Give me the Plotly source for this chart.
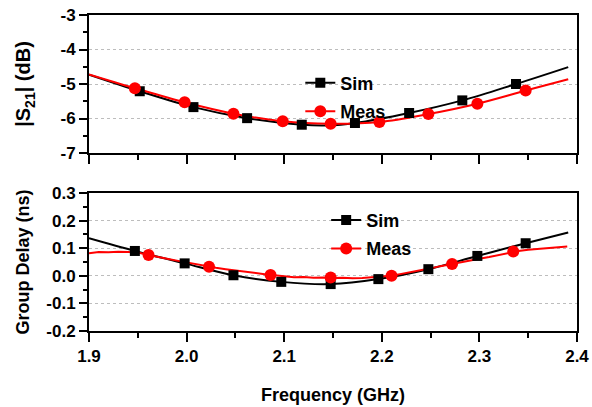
import plotly.graph_objects as go

# ---- |S21| (dB) : simulated curve and marker points ----
s21_sim_x = [1.900, 1.952, 2.007, 2.062, 2.118, 2.145, 2.1725, 2.228, 2.2825, 2.3375, 2.391]
s21_sim_y = [-4.73, -5.21, -5.67, -5.99, -6.18, -6.20, -6.13, -5.84, -5.475, -5.00, -4.51]
s21_sim_mx = [1.952, 2.007, 2.062, 2.118, 2.1725, 2.228, 2.2825, 2.3375]
s21_sim_my = [-5.21, -5.67, -5.99, -6.18, -6.13, -5.84, -5.475, -5.00]

# ---- |S21| (dB) : measured curve and marker points ----
s21_meas_x = [1.900, 1.947, 1.998, 2.048, 2.0985, 2.1476, 2.1975, 2.2477, 2.2979, 2.3474, 2.391]
s21_meas_y = [-4.72, -5.12, -5.53, -5.86, -6.08, -6.15, -6.10, -5.87, -5.57, -5.19, -4.86]
s21_meas_mx = [1.947, 1.998, 2.048, 2.0985, 2.1476, 2.1975, 2.2477, 2.2979, 2.3474]
s21_meas_my = [-5.12, -5.53, -5.86, -6.08, -6.15, -6.10, -5.87, -5.57, -5.19]

# ---- Group delay (ns) : simulated ----
gd_sim_x = [1.900, 1.947, 1.998, 2.048, 2.097, 2.1476, 2.1965, 2.2477, 2.2979, 2.3474, 2.391]
gd_sim_y = [0.136, 0.090, 0.045, 0.002, -0.022, -0.030, -0.012, 0.024, 0.072, 0.118, 0.157]
gd_sim_mx = [1.947, 1.998, 2.048, 2.097, 2.1476, 2.1965, 2.2477, 2.2979, 2.3474]
gd_sim_my = [0.090, 0.045, 0.002, -0.022, -0.030, -0.012, 0.024, 0.072, 0.118]

# ---- Group delay (ns) : measured trace ----
gd_meas_x = [1.90, 1.91, 1.92, 1.93, 1.94, 1.95, 1.96, 1.97, 1.98, 1.99,
             2.00, 2.01, 2.02, 2.03, 2.04, 2.05, 2.06, 2.07, 2.08, 2.09,
             2.10, 2.11, 2.12, 2.13, 2.14, 2.15, 2.16, 2.17, 2.18, 2.19,
             2.20, 2.21, 2.22, 2.23, 2.24, 2.25, 2.26, 2.27, 2.28, 2.29,
             2.30, 2.31, 2.32, 2.33, 2.34, 2.35, 2.36, 2.37, 2.38, 2.39]
gd_meas_y = [0.082, 0.086, 0.085, 0.087, 0.086, 0.084, 0.076, 0.070, 0.062, 0.055,
             0.048, 0.041, 0.035, 0.029, 0.024, 0.019, 0.014, 0.011, 0.006, 0.002,
             -0.002, -0.005, -0.004, -0.007, -0.006, -0.008, -0.007, -0.009, -0.008, -0.006,
             -0.003, 0.000, 0.007, 0.013, 0.020, 0.027, 0.035, 0.042, 0.050, 0.056,
             0.062, 0.068, 0.075, 0.083, 0.090, 0.094, 0.097, 0.100, 0.104, 0.106]
gd_meas_mx = [1.961, 2.023, 2.086, 2.1476, 2.210, 2.272, 2.3347]
gd_meas_my = [0.075, 0.033, 0.003, -0.006, 0.000, 0.043, 0.088]

# ---- axis ticks ----
x_ticks = [1.9, 2.0, 2.1, 2.2, 2.3, 2.4]
x_ticktext = ["1.9", "2.0", "2.1", "2.2", "2.3", "2.4"]
s21_ticks = [-7, -6, -5, -4, -3]
s21_ticktext = ["-7", "-6", "-5", "-4", "-3"]
gd_ticks = [-0.2, -0.1, 0.0, 0.1, 0.2, 0.3]
gd_ticktext = ["-0.2", "-0.1", "0.0", "0.1", "0.2", "0.3"]

BLACK = "#000000"
RED = "#ff0000"
FONT = "Liberation Sans, Arial, sans-serif"

fig = go.Figure()


def add_panel(xa, ya, sx, sy, smx, smy, mx, my, mmx, mmy, legend_name):
    fig.add_trace(go.Scatter(x=sx, y=sy, mode="lines", line=dict(color=BLACK, width=2, shape="spline"),
                             xaxis=xa, yaxis=ya, showlegend=False, hoverinfo="skip"))
    fig.add_trace(go.Scatter(x=mx, y=my, mode="lines",
                             line=dict(color=RED, width=2,
                                       shape="spline" if len(mx) < 20 else "linear"),
                             xaxis=xa, yaxis=ya, showlegend=False, hoverinfo="skip"))
    fig.add_trace(go.Scatter(x=smx, y=smy, mode="markers",
                             marker=dict(symbol="square", size=10, color=BLACK),
                             xaxis=xa, yaxis=ya, showlegend=False))
    fig.add_trace(go.Scatter(x=mmx, y=mmy, mode="markers",
                             marker=dict(symbol="circle", size=12, color=RED),
                             xaxis=xa, yaxis=ya, showlegend=False))
    # legend entries (line + marker)
    fig.add_trace(go.Scatter(x=[None], y=[None], mode="lines+markers", name="Sim",
                             line=dict(color=BLACK, width=2),
                             marker=dict(symbol="square", size=10, color=BLACK),
                             xaxis=xa, yaxis=ya, legend=legend_name, legendgroup=legend_name + "a"))
    fig.add_trace(go.Scatter(x=[None], y=[None], mode="lines+markers", name="Meas",
                             line=dict(color=RED, width=2),
                             marker=dict(symbol="circle", size=12, color=RED),
                             xaxis=xa, yaxis=ya, legend=legend_name, legendgroup=legend_name + "b"))


add_panel("x", "y", s21_sim_x, s21_sim_y, s21_sim_mx, s21_sim_my,
          s21_meas_x, s21_meas_y, s21_meas_mx, s21_meas_my, "legend")
add_panel("x2", "y2", gd_sim_x, gd_sim_y, gd_sim_mx, gd_sim_my,
          gd_meas_x, gd_meas_y, gd_meas_mx, gd_meas_my, "legend2")

x_common = dict(range=[1.9, 2.4], tickmode="array", tickvals=x_ticks, ticktext=x_ticktext,
                ticks="outside", ticklen=9, tickwidth=1.5, tickcolor=BLACK,
                minor=dict(tickmode="linear", tick0=1.9, dtick=0.05, ticks="outside",
                           ticklen=5, tickwidth=1.5, tickcolor=BLACK, showgrid=False),
                showline=True, linewidth=2, linecolor=BLACK, mirror=True,
                showgrid=False, zeroline=False, automargin=False,
                tickfont=dict(family=FONT, size=17, color=BLACK, weight="bold"))
y_common = dict(ticks="outside", ticklen=8, tickwidth=1.5, tickcolor=BLACK,
                showline=True, linewidth=2, linecolor=BLACK, mirror=True,
                showgrid=True, gridcolor="#bdbdbd", griddash="dot", gridwidth=1,
                zeroline=False, automargin=False,
                tickfont=dict(family=FONT, size=17, color=BLACK, weight="bold"))

top_dom = [0.5633, 1.0]
bot_dom = [0.0, 0.4367]

fig.update_layout(
    width=592, height=407,
    margin=dict(l=89, r=15, t=15, b=76),
    paper_bgcolor="white", plot_bgcolor="white",
    font=dict(family=FONT, color=BLACK),
    xaxis=dict(x_common, domain=[0, 1], anchor="y", showticklabels=False),
    yaxis=dict(y_common, domain=top_dom, anchor="x", range=[-7, -3],
               tickmode="array", tickvals=s21_ticks, ticktext=s21_ticktext,
               minor=dict(tickmode="linear", tick0=-7, dtick=0.5, ticks="outside",
                          ticklen=4, tickwidth=1.5, tickcolor=BLACK, showgrid=False),
               title=dict(text="|S<sub>21</sub>| (dB)", standoff=24,
                          font=dict(family=FONT, size=20, color=BLACK, weight="bold"))),
    xaxis2=dict(x_common, domain=[0, 1], anchor="y2",
                title=dict(text="Frequency (GHz)", standoff=23,
                           font=dict(family=FONT, size=18, color=BLACK, weight="bold"))),
    yaxis2=dict(y_common, domain=bot_dom, anchor="x2", range=[-0.2, 0.3],
                tickmode="array", tickvals=gd_ticks, ticktext=gd_ticktext,
                minor=dict(tickmode="linear", tick0=-0.2, dtick=0.05, ticks="outside",
                           ticklen=4, tickwidth=1.5, tickcolor=BLACK, showgrid=False),
                title=dict(text="Group Delay (ns)", standoff=12,
                           font=dict(family=FONT, size=18, color=BLACK, weight="bold"))),
    # short mirrored ticks on the top and right edges
    xaxis3=dict(overlaying="x", anchor="y", side="top", range=[1.9, 2.4], automargin=False,
                tickmode="linear", tick0=1.9, dtick=0.05, ticks="outside", ticklen=2,
                tickcolor=BLACK, showticklabels=False, showgrid=False, zeroline=False),
    yaxis3=dict(overlaying="y", anchor="x", side="right", range=[-7, -3], automargin=False,
                tickmode="linear", tick0=-7, dtick=0.5, ticks="outside", ticklen=3,
                tickcolor=BLACK, showticklabels=False, showgrid=False, zeroline=False),
    xaxis4=dict(overlaying="x2", anchor="y2", side="top", range=[1.9, 2.4], automargin=False,
                tickmode="linear", tick0=1.9, dtick=0.05, ticks="outside", ticklen=2,
                tickcolor=BLACK, showticklabels=False, showgrid=False, zeroline=False),
    yaxis4=dict(overlaying="y2", anchor="x2", side="right", range=[-0.2, 0.3], automargin=False,
                tickmode="linear", tick0=-0.2, dtick=0.05, ticks="outside", ticklen=3,
                tickcolor=BLACK, showticklabels=False, showgrid=False, zeroline=False),
    legend=dict(x=0.433, y=0.740, xanchor="left", yanchor="middle",
                bgcolor="rgba(0,0,0,0)", tracegroupgap=2,
                font=dict(family=FONT, size=18, color=BLACK, weight="bold")),
    legend2=dict(x=0.486, y=0.306, xanchor="left", yanchor="middle",
                 bgcolor="rgba(0,0,0,0)", tracegroupgap=2,
                 font=dict(family=FONT, size=18, color=BLACK, weight="bold")),
)

fig.write_html("out.html")
